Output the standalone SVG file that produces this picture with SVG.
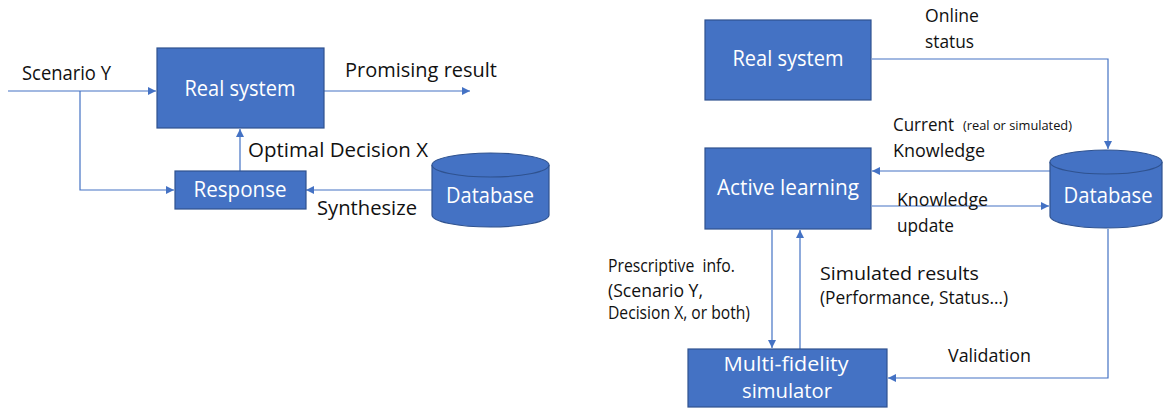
<svg xmlns="http://www.w3.org/2000/svg" width="1163" height="409" viewBox="0 0 1163 409">
<defs>
<style>
.box{fill:#4472C4;stroke:#2F528F;stroke-width:1.2}
.lt{font-family:"Open Sans","Liberation Sans",sans-serif;fill:#fff;font-size:21.5px;text-anchor:middle}
.lt2{font-family:"Open Sans","Liberation Sans",sans-serif;fill:#fff;font-size:19.5px;text-anchor:middle}
.t{font-family:"Open Sans","Liberation Sans",sans-serif;fill:#111;font-size:20.5px}
.s{font-family:"Open Sans","Liberation Sans",sans-serif;fill:#111;font-size:18px}
.xs{font-family:"Open Sans","Liberation Sans",sans-serif;fill:#111;font-size:12.5px}
.c{fill:none;stroke:#4472C4;stroke-width:1.2}
</style>
<marker id="a" viewBox="0 0 10 10" refX="10" refY="5" markerWidth="8" markerHeight="8" markerUnits="userSpaceOnUse" orient="auto">
<path d="M0,0 L10,5 L0,10 z" fill="#4472C4"/>
</marker>
</defs>
<rect width="1163" height="409" fill="#fff"/>
<g id="connectors">
<path class="c" d="M8,91 H156" marker-end="url(#a)"/>
<path class="c" d="M80,91 V190 H174" marker-end="url(#a)"/>
<path class="c" d="M324,91 H470" marker-end="url(#a)"/>
<path class="c" d="M240,171 V129" marker-end="url(#a)"/>
<path class="c" d="M432,190 H306" marker-end="url(#a)"/>
<path class="c" d="M872,59 H1108 V149" marker-end="url(#a)"/>
<path class="c" d="M1050,171 H872" marker-end="url(#a)"/>
<path class="c" d="M872,206 H1049" marker-end="url(#a)"/>
<path class="c" d="M772,230 V348" marker-end="url(#a)"/>
<path class="c" d="M800,349 V230" marker-end="url(#a)"/>
<path class="c" d="M1108,229 V378 H888" marker-end="url(#a)"/>
</g>
<g id="left-real-system">
<rect class="box" x="157" y="48" width="167" height="80"/>
<text class="lt" x="240" y="96" textLength="111" lengthAdjust="spacingAndGlyphs">Real system</text>
</g>
<g id="response">
<rect class="box" x="175" y="171" width="131" height="38"/>
<text class="lt" x="240" y="197" textLength="93" lengthAdjust="spacingAndGlyphs">Response</text>
</g>
<g id="left-database">
<path class="box" d="M432,165 V215 A58.5,12 0 0 0 549,215 V165 A58.5,12 0 0 0 432,165 Z"/>
<path class="box" d="M432,165 A58.5,12 0 0 0 549,165"/>
<text class="lt" x="490" y="203" textLength="88" lengthAdjust="spacingAndGlyphs">Database</text>
</g>
<g id="right-real-system">
<rect class="box" x="705" y="20" width="166" height="80"/>
<text class="lt" x="788" y="66" textLength="111" lengthAdjust="spacingAndGlyphs">Real system</text>
</g>
<g id="active-learning">
<rect class="box" x="705" y="148" width="166" height="81"/>
<text class="lt" x="788" y="195" textLength="142" lengthAdjust="spacingAndGlyphs">Active learning</text>
</g>
<g id="right-database">
<path class="box" d="M1050,162 V216 A56,12 0 0 0 1162,216 V162 A56,12 0 0 0 1050,162 Z"/>
<path class="box" d="M1050,162 A56,12 0 0 0 1162,162"/>
<text class="lt" x="1108" y="203" textLength="89" lengthAdjust="spacingAndGlyphs">Database</text>
</g>
<g id="simulator">
<rect class="box" x="688" y="349" width="199" height="58"/>
<text class="lt2" x="786" y="371" textLength="125" lengthAdjust="spacingAndGlyphs">Multi-fidelity</text>
<text class="lt2" x="787" y="398" textLength="90" lengthAdjust="spacingAndGlyphs">simulator</text>
</g>
<g id="labels">
<text class="t" x="22" y="80" textLength="89" lengthAdjust="spacingAndGlyphs">Scenario Y</text>
<text class="t" x="345" y="77" textLength="152" lengthAdjust="spacingAndGlyphs">Promising result</text>
<text class="t" x="248" y="157" textLength="180" lengthAdjust="spacingAndGlyphs">Optimal Decision X</text>
<text class="t" x="317" y="215" textLength="100" lengthAdjust="spacingAndGlyphs">Synthesize</text>
<text class="s" x="925" y="22" textLength="54" lengthAdjust="spacingAndGlyphs">Online</text>
<text class="s" x="925" y="48" textLength="49" lengthAdjust="spacingAndGlyphs">status</text>
<text class="s" x="893" y="131" textLength="61" lengthAdjust="spacingAndGlyphs">Current</text>
<text class="xs" x="963" y="130" textLength="109" lengthAdjust="spacingAndGlyphs">(real or simulated)</text>
<text class="s" x="893" y="157" textLength="92" lengthAdjust="spacingAndGlyphs">Knowledge</text>
<text class="s" x="897" y="206" textLength="91" lengthAdjust="spacingAndGlyphs">Knowledge</text>
<text class="s" x="897" y="232" textLength="57" lengthAdjust="spacingAndGlyphs">update</text>
<text class="s" x="608" y="272" textLength="127" lengthAdjust="spacingAndGlyphs" xml:space="preserve">Prescriptive  info.</text>
<text class="s" x="608" y="297" textLength="95" lengthAdjust="spacingAndGlyphs">(Scenario Y,</text>
<text class="s" x="608" y="319" textLength="142" lengthAdjust="spacingAndGlyphs">Decision X, or both)</text>
<text class="s" x="820" y="280" textLength="159" lengthAdjust="spacingAndGlyphs">Simulated results</text>
<text class="s" x="820" y="304" textLength="188" lengthAdjust="spacingAndGlyphs">(Performance, Status…)</text>
<text class="s" x="948" y="362" textLength="83" lengthAdjust="spacingAndGlyphs">Validation</text>
</g>
</svg>
